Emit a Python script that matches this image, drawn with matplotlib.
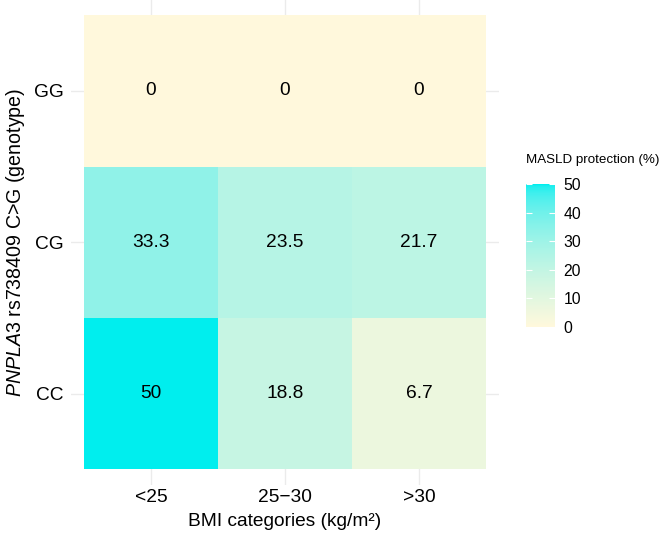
import numpy as np
import matplotlib
matplotlib.use("Agg")
import matplotlib.pyplot as plt
from matplotlib.colors import ListedColormap, to_rgb

plt.rcParams['font.family'] = ['Liberation Sans', 'DejaVu Sans']
plt.rcParams['mathtext.fontset'] = 'custom'
plt.rcParams['mathtext.rm'] = 'Liberation Sans'
plt.rcParams['mathtext.it'] = 'Liberation Sans:italic'

# ---- data ----
bmi_categories = ['<25', '25\u221230', '>30']
genotypes = ['CC', 'CG', 'GG']          # bottom to top
protection_CC = [50, 18.8, 6.7]
protection_CG = [33.3, 23.5, 21.7]
protection_GG = [0, 0, 0]
cell_labels_CC = ['50', '18.8', '6.7']
cell_labels_CG = ['33.3', '23.5', '21.7']
cell_labels_GG = ['0', '0', '0']
legend_breaks = [0, 10, 20, 30, 40, 50]

values = np.array([protection_CC, protection_CG, protection_GG], dtype=float)
labels = [cell_labels_CC, cell_labels_CG, cell_labels_GG]

# ---- Lab gradient (like ggplot scale_fill_gradient) ----
def srgb_to_lin(c):
    c = np.asarray(c)
    return np.where(c <= 0.04045, c / 12.92, ((c + 0.055) / 1.055) ** 2.4)

def lin_to_srgb(c):
    c = np.clip(c, 0, 1)
    return np.where(c <= 0.0031308, 12.92 * c, 1.055 * c ** (1 / 2.4) - 0.055)

M = np.array([[0.4124564, 0.3575761, 0.1804375],
              [0.2126729, 0.7151522, 0.0721750],
              [0.0193339, 0.1191920, 0.9503041]])
Minv = np.linalg.inv(M)
WHITE = np.array([0.95047, 1.0, 1.08883])

def f(t):
    d = 6 / 29
    return np.where(t > d ** 3, np.cbrt(t), t / (3 * d * d) + 4 / 29)

def finv(t):
    d = 6 / 29
    return np.where(t > d, t ** 3, 3 * d * d * (t - 4 / 29))

def rgb_to_lab(rgb):
    xyz = M @ srgb_to_lin(rgb) / WHITE
    fx, fy, fz = f(xyz)
    return np.array([116 * fy - 16, 500 * (fx - fy), 200 * (fy - fz)])

def lab_to_rgb(lab):
    L, a, b = lab
    fy = (L + 16) / 116
    fx = fy + a / 500
    fz = fy - b / 200
    xyz = np.array([finv(fx), finv(fy), finv(fz)]) * WHITE
    return lin_to_srgb(Minv @ xyz)

low = rgb_to_lab(to_rgb('#FFF8DC'))
high = rgb_to_lab(to_rgb('#00EEEE'))
cols = [lab_to_rgb(low + (high - low) * t) for t in np.linspace(0, 1, 256)]
cmap = ListedColormap(cols)

# ---- figure ----
fig = plt.figure(figsize=(6.64, 5.37), dpi=100)
W, H = 664, 537
px0, px1, py0, py1 = 70.6, 499.4, 0.0, 484.6
ax = fig.add_axes([px0 / W, 1 - py1 / H, (px1 - px0) / W, (py1 - py0) / H])

xe = np.arange(len(bmi_categories) + 1) - 0.5
ye = np.arange(len(genotypes) + 1) - 0.5
mesh = ax.pcolormesh(xe, ye, values, cmap=cmap, vmin=0, vmax=50, zorder=2)

for i in range(len(genotypes)):
    for j in range(len(bmi_categories)):
        ax.text(j, i, labels[i][j], ha='center', va='center', fontsize=13.8,
                color='black', zorder=3)

ax.set_xlim(-0.6, len(bmi_categories) - 0.4)
ax.set_ylim(-0.6, len(genotypes) - 0.4)
ax.set_xticks(range(len(bmi_categories)))
ax.set_xticklabels(bmi_categories)
ax.set_yticks(range(len(genotypes)))
ax.set_yticklabels(genotypes)
ax.grid(True, color='#EBEBEB', linewidth=1.0, zorder=0)
ax.set_axisbelow(True)
for s in ax.spines.values():
    s.set_visible(False)
ax.tick_params(length=0, labelsize=13.8, colors='black', pad=5)
ax.tick_params(axis='x', pad=3.5)
ax.set_xlabel('BMI categories (kg/m\u00b2)', fontsize=13.8, labelpad=5)
ax.set_ylabel(r'$\it{PNPLA3}$ rs738409 C>G (genotype)', fontsize=14.1, labelpad=5)

# ---- colorbar ----
cax = fig.add_axes([526 / W, 1 - 327 / H, 29 / W, 143 / H])
cb = fig.colorbar(mesh, cax=cax, ticks=legend_breaks)
cb.outline.set_visible(False)
cax.tick_params(direction='in', color='white', length=4.2, width=0.8,
                left=True, right=True, labelleft=False, labelright=True,
                labelsize=11.3, pad=6)
fig.text(526 / W, 1 - 160 / H, 'MASLD protection (%)', fontsize=9.6,
         ha='left', va='center')

fig.savefig('out.png', dpi=100)
